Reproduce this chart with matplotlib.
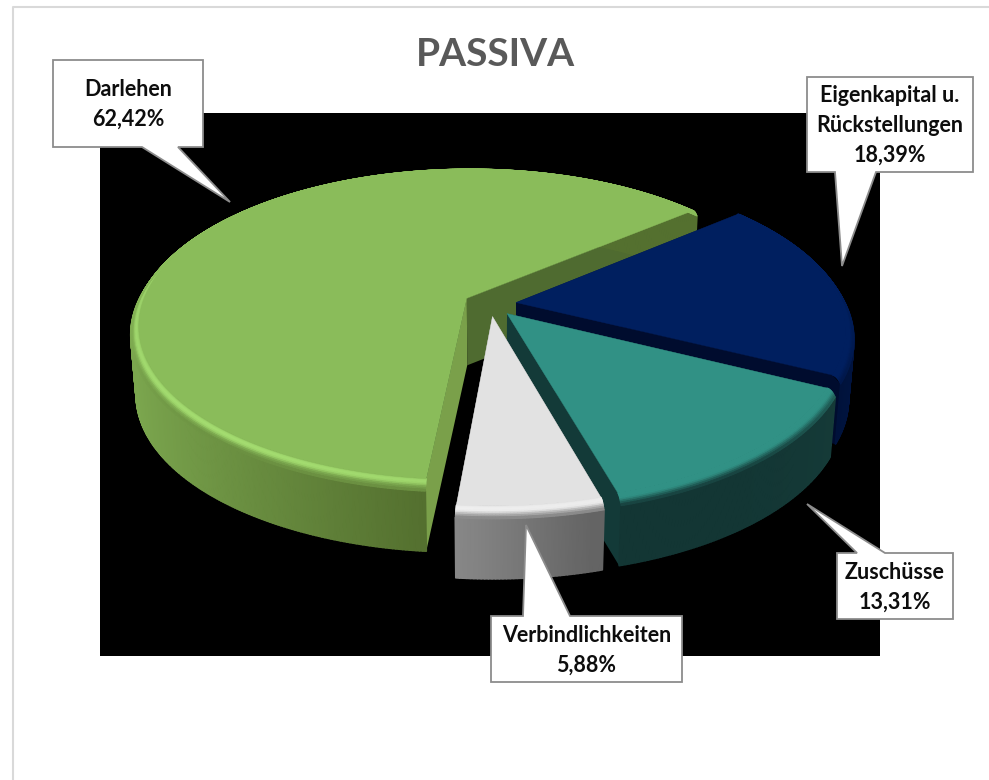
import numpy as np
import matplotlib
matplotlib.use("Agg")
from matplotlib import pyplot as plt
from matplotlib.collections import PolyCollection
from matplotlib.colors import to_rgb

categories = ["Darlehen", "Eigenkapital u.\nRückstellungen", "Zuschüsse", "Verbindlichkeiten"]
shares = [62.42, 18.39, 13.31, 5.88]
share_labels = ["62,42%", "18,39%", "13,31%", "5,88%"]

top_colors = ["#8abc5a", "#001f5f", "#319185", "#e2e2e2"]
side_left = ["#7ba64e", "#001648", "#173f3c", "#9a9a9a"]
side_right = ["#54702f", "#000f30", "#133634", "#646464"]
cut_first = ["#7aa04a", "#000c2e", "#133a38", "#777777"]
cut_last = ["#4f6b30", "#000c2e", "#133a38", "#777777"]
glow = ["#a8e274", "#001f5f", "#319185", "#f4f4f4"]

plt.rcParams['font.family'] = ['Lato', 'DejaVu Sans']

W, H = 989, 780
cx, cy = 490, 304      # pie centre in pixels
R, tilt, persp = 333, 0.47, 0.174
explode = 0.079
depth = 60
bevel_w, bevel_z = 0.025, 7
last_edge = 40.0       # where the first slice ends, going clockwise


def project(x, y, z=0.0):
    p = 1.0 / (1.0 + persp * y)
    sx = R * x * p * (1 - 0.015 * z / depth)
    sy = -R * tilt * y * p + z
    return cx + sx, cy + sy


def mix(a, b, t):
    a, b = np.array(to_rgb(a)), np.array(to_rgb(b))
    return tuple(a + (b - a) * t)


fig = plt.figure(figsize=(W / 100, H / 100), dpi=100, facecolor="white")
ax = fig.add_axes([0, 0, 1, 1])
ax.set_xlim(0, W)
ax.set_ylim(H, 0)
ax.axis('off')

# chart frame (only left and top are in the crop) and black plot area
ax.plot([13, 13, 989], [780, 7, 7], color="#d9d9d9", lw=1.5, zorder=1)
ax.fill_between([100, 880], 113, 656, color="black", lw=0, zorder=1)
ax.text(495, 54, "PASSIVA", ha="center", va="center", fontsize=28, fontweight="bold",
        color="#595959", zorder=2)

z = 3
start = last_edge + shares[0] / sum(shares) * 360
for i, share in enumerate(shares):
    sweep = share / sum(shares) * 360
    t1, t2 = start, start - sweep
    mid = np.radians((t1 + t2) / 2)
    ox, oy = explode * np.cos(mid), explode * np.sin(mid)
    th = np.radians(np.linspace(t1, t2, max(int(sweep * 2), 20)))

    def pt(r, a, zz=0.0):
        return project(ox + r * np.cos(a), oy + r * np.sin(a), zz)

    # cut faces go first, the wall must stay on top of them
    ap = project(ox, oy)
    ap_low = project(ox, oy, depth + bevel_z)
    for a, col in [(th[0], cut_first[i]), (th[-1], cut_last[i])]:
        face = [ap, pt(1 - bevel_w, a), pt(1, a, bevel_z), pt(1, a, bevel_z + depth), ap_low]
        ax.fill([q[0] for q in face], [q[1] for q in face], color=col, lw=0, zorder=z)

    # outer wall, strips coloured along the sweep
    quads, cols = [], []
    for k in range(len(th) - 1):
        a, b = th[k], th[k + 1]
        quads.append([pt(1, a, bevel_z), pt(1, b, bevel_z), pt(1, b, bevel_z + depth), pt(1, a, bevel_z + depth)])
        am = (a + b) / 2
        if i == 0:
            # big slice fades from the left edge to the front
            cols.append(mix(side_left[i], side_right[i], np.clip((np.cos(am) + 0.95) / 0.85, 0, 1)))
        elif i == 3:
            cols.append(mix(side_left[i], side_right[i], np.clip((np.cos(am) + 0.26) / 0.5, 0, 1)))
        else:
            cols.append(mix(side_left[i], side_right[i], np.clip(-np.sin(am) * 1.2, 0, 1)))
    ax.add_collection(PolyCollection(quads, facecolors=cols, edgecolors=cols, lw=1.2, zorder=z + 0.5))

    # rounded rim
    quads, cols = [], []
    n = 10
    for j in range(n):
        u0, u1 = j / n, (j + 1) / n
        r0, r1 = 1 - bevel_w * (1 - u0), 1 - bevel_w * (1 - u1)
        z0, z1 = bevel_z * u0 ** 2, bevel_z * u1 ** 2
        for k in range(len(th) - 1):
            a, b = th[k], th[k + 1]
            quads.append([pt(r0, a, z0), pt(r0, b, z0), pt(r1, b, z1), pt(r1, a, z1)])
            # light from the front left
            am = (a + b) / 2
            light = np.clip(0.55 * (-np.sin(am)) + 0.45 * (-np.cos(am)) + 0.15, 0, 1)
            um = (u0 + u1) / 2
            c = mix(top_colors[i], glow[i], light * np.sin(np.pi * min(um * 1.3, 1)))
            wall = mix(side_left[i], side_right[i], 0.5)
            c = mix(c, wall, max(0, um - 0.6) / 0.4 * np.clip(0.2 - np.sin(am), 0, 1))
            cols.append(c)
    ax.add_collection(PolyCollection(quads, facecolors=cols, edgecolors=cols, lw=0.8, zorder=z + 1))

    # flat top
    xs, ys = zip(*[ap] + [pt(1 - bevel_w, a) for a in th])
    ax.fill(xs, ys, color=top_colors[i], lw=0.3, zorder=z + 1)

    z += 2
    start = t2

# callouts: box, tail base and tip, all in pixels
boxes = [(53, 60, 203, 147), (807, 77, 973, 172), (837, 553, 953, 619), (491, 616, 682, 682)]
tails = [[(142, 147), (230, 202), (178, 147)], [(835, 172), (842, 266), (876, 172)],
         [(857, 553), (807, 504), (885, 553)], [(523, 616), (526, 525), (570, 616)]]
for i in range(4):
    x0, y0, x1, y1 = boxes[i]
    (ax_, ay_), (tx, ty), (bx, by) = tails[i]
    if i in (0, 1):
        px = [x0, x1, x1, bx, tx, ax_, x0, x0]
        py = [y0, y0, y1, y1, ty, y1, y1, y0]
    else:
        px = [x0, ax_, tx, bx, x1, x1, x0, x0]
        py = [y0, y0, ty, y0, y0, y1, y1, y0]
    ax.fill(px, py, facecolor="white", edgecolor="#8c8c8c", lw=1.3, zorder=20, joinstyle="miter")
    ax.text((x0 + x1) / 2, (y0 + y1) / 2 + 1, categories[i] + "\n" + share_labels[i], ha="center", va="center",
            fontsize=15.5, fontweight="bold", color="#0d0d0d", linespacing=1.5, zorder=21)

fig.savefig("out.png", dpi=100)
